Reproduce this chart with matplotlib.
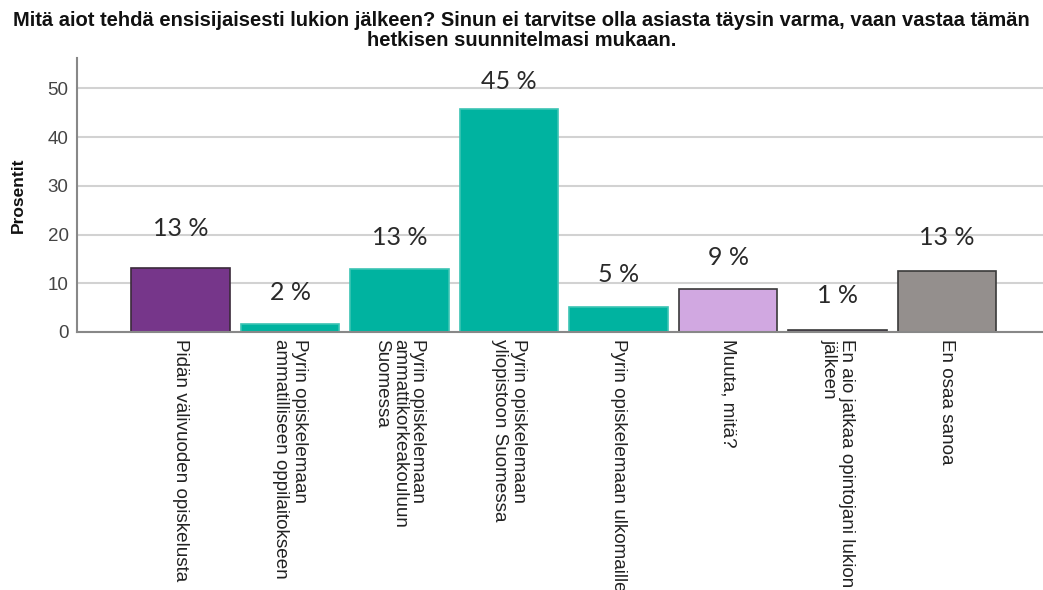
import matplotlib
matplotlib.use("Agg")
import matplotlib.pyplot as plt
from matplotlib import font_manager

title = ("Mitä aiot tehdä ensisijaisesti lukion jälkeen? Sinun ei tarvitse olla asiasta täysin varma, vaan vastaa tämän\n"
         "hetkisen suunnitelmasi mukaan.")
categories = [
    "Pidän välivuoden opiskelusta",
    "Pyrin opiskelemaan\nammatilliseen oppilaitokseen",
    "Pyrin opiskelemaan\nammattikorkeakouluun\nSuomessa",
    "Pyrin opiskelemaan\nyliopistoon Suomessa",
    "Pyrin opiskelemaan ulkomaille",
    "Muuta, mitä?",
    "En aio jatkaa opintojani lukion\njälkeen",
    "En osaa sanoa",
]
values = [13.1, 1.6, 12.9, 45.7, 5.2, 8.8, 0.5, 12.5]
value_labels = ["13 %", "2 %", "13 %", "45 %", "5 %", "9 %", "1 %", "13 %"]
yticks = [0, 10, 20, 30, 40, 50]
ylabel = "Prosentit"

colors = ["#76368a", "#00b3a0", "#00b3a0", "#00b3a0", "#00b3a0", "#d1a8e1", "#6f4a80", "#948f8d"]
edges = ["#3a2a3a", "#3cc4b4", "#3cc4b4", "#3cc4b4", "#3cc4b4", "#3a3a3a", "#3a3a3a", "#3a3a3a"]
label_offsets_px = [40, 32, 32, 28, 32, 32, 34, 34]

names = {f.name for f in font_manager.fontManager.ttflist}
title_font = "Liberation Sans Narrow" if "Liberation Sans Narrow" in names else "Liberation Sans"

W, H = 1043, 590
fig = plt.figure(figsize=(W / 100, H / 100), dpi=100)
ax_left, ax_right, ax_bottom, ax_top = 77, 1043, 332, 58
ax = fig.add_axes([ax_left / W, 1 - ax_bottom / H, (ax_right - ax_left) / W, (ax_bottom - ax_top) / H])

px_per_unit_y = (331.7 - 88) / 50
ymax = (ax_bottom - ax_top) / px_per_unit_y
ax.set_ylim(0, ymax)
step = 109.5
c0 = 180.5
ax.set_xlim((ax_left - c0) / step, (ax_right - c0) / step)

x = list(range(len(categories)))
ax.bar(x, values, width=0.895, color=colors, edgecolor=edges, linewidth=1.2, zorder=3)

for xi, v, lab, off in zip(x, values, value_labels, label_offsets_px):
    ax.annotate(lab, (xi, v), xytext=(0, off * 72 / 100), textcoords="offset points",
                ha="center", va="center", fontsize=18, family="Lato", fontweight="normal",
                color="#2a2a2a", zorder=4)

ax.set_yticks(yticks)
ax.set_yticklabels([str(t) for t in yticks], fontsize=13.5, family="Liberation Sans", color="#444444")
ax.tick_params(axis="y", length=0, pad=6)
ax.set_xticks(x)
ax.set_xticklabels(categories, rotation=270, ha="center", va="top", rotation_mode="default",
                   fontsize=13.6, family="Liberation Sans", color="#222222", linespacing=1.08,
                   multialignment="left")
ax.tick_params(axis="x", length=0, pad=5)

ax.grid(axis="y", color="#d2d2d2", linewidth=1.5, zorder=0)
ax.set_axisbelow(True)
for s in ["top", "right"]:
    ax.spines[s].set_visible(False)
for s in ["left", "bottom"]:
    ax.spines[s].set_color("#888888")
    ax.spines[s].set_linewidth(1.5)
    ax.spines[s].set_zorder(5)

fig.text(18 / W, 1 - 195 / H, ylabel, rotation=90, ha="center", va="center",
         fontsize=12.5, fontweight="bold", family="Liberation Sans", color="#111111")
fig.text(0.5, 1 - 11 / H, title, ha="center", va="top", fontsize=14.5, fontweight="bold",
         family=title_font, color="#111111", linespacing=1.05)

fig.savefig("out.png", dpi=100)
